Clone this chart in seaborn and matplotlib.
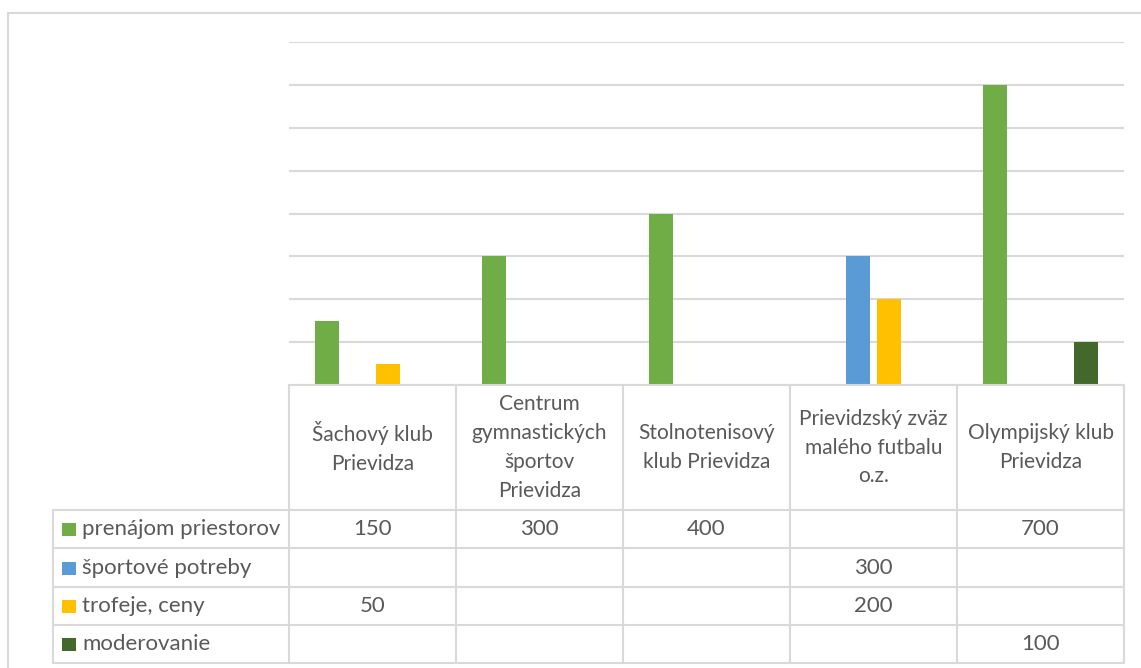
"""
Výdavky klubov podľa položiek — stĺpcový graf s tabuľkou údajov (štýl Excel).
"""

import matplotlib.pyplot as plt
import numpy as np
import pandas as pd
import seaborn as sns

# ── Data ──────────────────────────────────────────────────────────────────────

clubs = [
    "Šachový klub\nPrievidza",
    "Centrum\ngymnastických\nšportov\nPrievidza",
    "Stolnotenisový\nklub Prievidza",
    "Prievidzský zväz\nmalého futbalu\no.z.",
    "Olympijský klub\nPrievidza",
]
series = ["prenájom priestorov", "športové potreby", "trofeje, ceny", "moderovanie"]

prenajom  = [150, 300, 400, None, 700]
potreby   = [None, None, None, 300, None]
trofeje   = [50, None, None, 200, None]
moderov   = [None, None, None, None, 100]

colors = ["#70AD47", "#5B9BD5", "#FFC000", "#43682B"]
y_ticks = [0, 100, 200, 300, 400, 500, 600, 700, 800]

values = [prenajom, potreby, trofeje, moderov]
rows = []
for s, vals in zip(series, values):
    for c, v in zip(clubs, vals):
        rows.append({"club": c, "series": s, "value": v})
df = pd.DataFrame(rows)

# ── Figure ────────────────────────────────────────────────────────────────────

W, H = 1141, 668
GRID = "#D9D9D9"
TXT = "#595959"
FONT = ["Lato", "DejaVu Sans"]
FS_HEAD = 15
FS_ROW = 16

sns.set_style("white")
plt.rcParams["font.family"] = FONT

fig = plt.figure(figsize=(W / 100, H / 100), dpi=100)


def fx(x):
    return x / W


def fy(y):
    return 1 - y / H


x_cols = [289, 456, 623, 790, 957, 1124]
y_base, y_top = 385, 42
ax = fig.add_axes([fx(289), fy(y_base), fx(1124 - 289), fy(y_top) - fy(y_base)])

sns.barplot(data=df.dropna(), x="club", y="value", hue="series",
            order=clubs, hue_order=series, palette=colors, saturation=1,
            width=0.72, gap=0.2, linewidth=0, ax=ax, legend=False)

ax.set_xlim(-0.5, len(clubs) - 0.5)
ax.set_ylim(0, 800)
ax.set_yticks(y_ticks)
ax.yaxis.grid(True, color=GRID, lw=1.5)
ax.set_axisbelow(True)
ax.set_xticks([])
ax.set_yticklabels([])
ax.tick_params(left=False, bottom=False)
ax.set_xlabel("")
ax.set_ylabel("")
for sp in ax.spines.values():
    sp.set_visible(False)

# ── Outer frame (top / left) ──────────────────────────────────────────────────

fig.add_artist(plt.Line2D([fx(8), fx(8)], [fy(13), 0], color=GRID, lw=1.5))
fig.add_artist(plt.Line2D([fx(8), 1], [fy(13), fy(13)], color=GRID, lw=1.5))

# ── Data table ────────────────────────────────────────────────────────────────

row_y = [510, 548, 587, 625, 663]
x_left = 53


def hline(x0, x1, y):
    fig.add_artist(plt.Line2D([fx(x0), fx(x1)], [fy(y), fy(y)], color=GRID, lw=1.5))


def vline(x, y0, y1):
    fig.add_artist(plt.Line2D([fx(x), fx(x)], [fy(y0), fy(y1)], color=GRID, lw=1.5))


hline(x_cols[0], x_cols[-1], y_base)
for y in row_y:
    hline(x_left, x_cols[-1], y)
for x in x_cols:
    vline(x, y_base, row_y[-1])
vline(x_left, row_y[0], row_y[-1])

# category headers
for i, name in enumerate(clubs):
    cx = (x_cols[i] + x_cols[i + 1]) / 2
    fig.text(fx(cx), fy((y_base + row_y[0]) / 2), name, ha="center", va="center",
             fontsize=FS_HEAD, color=TXT, linespacing=1.55)

# series rows
for r, (s, vals, col) in enumerate(zip(series, values, colors)):
    cy = (row_y[r] + row_y[r + 1]) / 2
    fig.add_artist(plt.Rectangle((fx(62), fy(cy + 7)), fx(14), fy(0) - fy(13),
                                 color=col, lw=0))
    fig.text(fx(82), fy(cy), s, ha="left", va="center", fontsize=FS_ROW, color=TXT)
    for i, v in enumerate(vals):
        if v is None:
            continue
        cx = (x_cols[i] + x_cols[i + 1]) / 2
        fig.text(fx(cx), fy(cy), f"{v}", ha="center", va="center",
                 fontsize=FS_ROW, color=TXT)

fig.savefig("out.png", dpi=100)
plt.close(fig)
